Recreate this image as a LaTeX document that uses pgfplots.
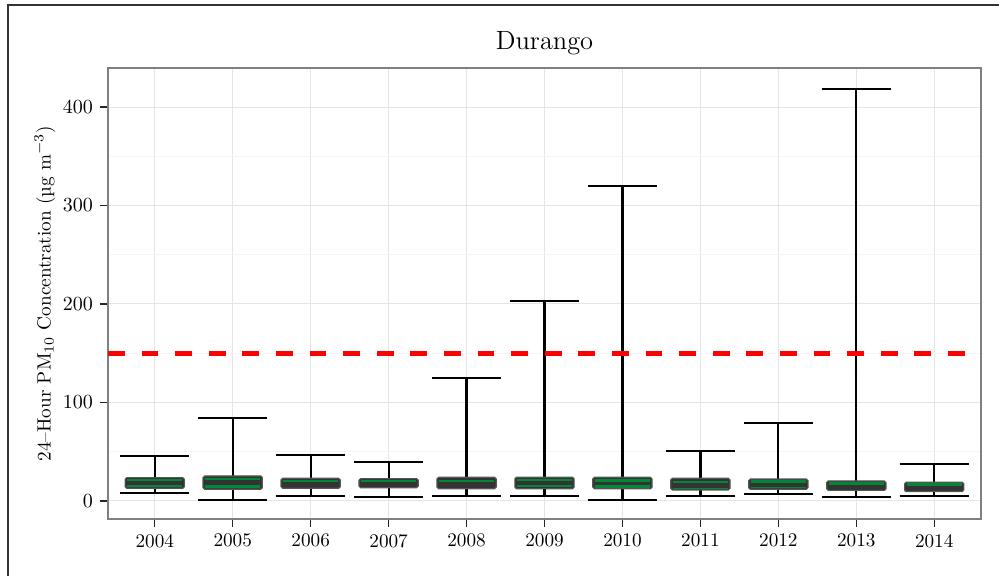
\documentclass[border=0pt]{standalone}
\usepackage{pgfplots}
\pgfplotsset{compat=1.18}
\usepackage{pgfplotstable}
\usepgfplotslibrary{statistics}

\definecolor{boxgray}{HTML}{333333}
\definecolor{boxedge}{HTML}{555555}
\definecolor{medgreen}{RGB}{0,136,55}

% boxes per year: x = year index (0 = 2004)
\pgfplotstableread{
x  lo   q1   med  q3   hi
0  7.8  12.9 18   23.7 46.0
1  1.3  11.9 18   25.4 84.6
2  5.4  12.9 18   23.0 46.7
3  4.4  13.5 18   22.7 39.6
4  5.4  12.5 18   24.0 124.9
5  5.4  12.5 18   24.0 202.7
6  1.3  12.5 18   24.0 319.8
7  5.4  11.2 18   23.0 50.4
8  6.8  11.9 18   22.3 79.5
9  3.7  10.8 15   20.3 418.6
10 4.7  9.5  14   19.0 37.6
}\boxdata

% green lines inside the boxes
\pgfplotstableread{
x  y
0  21.6
0  15.2
1  22.3
1  14.9
2  20.0
3  20.0
4  20.3
5  21.6
5  15.5
6  21.0
6  14.9
7  19.0
8  19.6
9  17.6
10 16.6
}\greenmain

\pgfplotstableread{
x  y
7  12.9
8  13.9
}\greenthin

\begin{document}
\begin{tikzpicture}
\begin{axis}[
    at={(0,0)}, anchor=south west,
    scale only axis,
    width=436.5pt, height=225.5pt,
    xmin=-0.6, xmax=10.6,
    ymin=-18.3, ymax=439.6,
    xtick={0,...,10},
    xticklabels={2004,2005,2006,2007,2008,2009,2010,2011,2012,2013,2014},
    ytick={0,100,200,300,400},
    minor ytick={50,150,250,350},
    xmajorgrids, ymajorgrids, yminorgrids,
    major grid style={color=black!10, line width=0.5pt},
    minor grid style={color=black!4, line width=0.5pt},
    axis line style={color=black!50, line width=0.7pt},
    tick pos=left,
    tick align=outside,
    major tick length=4pt,
    minor tick length=0pt,
    tick style={black!85, line width=0.7pt},
    ticklabel style={font=\fontsize{9.6}{11.5}\selectfont},
    title={Durango},
    title style={at={(0.5,1)}, anchor=base, yshift=3.1pt, font=\fontsize{13.2}{16}\selectfont},
    ylabel={24--Hour PM$_{10}$ Concentration (µg m$^{-3}$)},
    ylabel style={at={(axis description cs:0,0.5)}, anchor=center, yshift=31.5pt, font=\fontsize{9.6}{11.5}\selectfont},
    boxplot/draw direction=y,
    boxplot/box extend=0.76,
    boxplot/whisker extend=0.89,
    boxplot/every box/.style={fill=boxgray, draw=boxedge, line width=0.6pt, rounded corners=0.8pt},
    boxplot/every whisker/.style={black, line width=1.1pt},
    boxplot/every median/.style={draw=none},
]
\pgfplotsinvokeforeach{0,...,10}{
  \pgfplotstablegetelem{#1}{lo}\of\boxdata \let\lo\pgfplotsretval
  \pgfplotstablegetelem{#1}{q1}\of\boxdata \let\qa\pgfplotsretval
  \pgfplotstablegetelem{#1}{med}\of\boxdata \let\md\pgfplotsretval
  \pgfplotstablegetelem{#1}{q3}\of\boxdata \let\qb\pgfplotsretval
  \pgfplotstablegetelem{#1}{hi}\of\boxdata \let\hi\pgfplotsretval
  \edef\doplot{\noexpand\addplot[boxplot prepared={draw position=#1,
      lower whisker=\lo, lower quartile=\qa, median=\md,
      upper quartile=\qb, upper whisker=\hi}] coordinates {};}
  \doplot
}
\addplot[draw=none, mark=none,
  error bars/.cd, x dir=both, x fixed=0.35, error mark=none,
  error bar style={draw=medgreen, line width=1.2pt, solid}]
  table[x=x, y=y] {\greenmain};
\addplot[draw=none, mark=none,
  error bars/.cd, x dir=both, x fixed=0.35, error mark=none,
  error bar style={draw=medgreen, line width=0.6pt, solid}]
  table[x=x, y=y] {\greenthin};
\addplot[red, line width=2.3pt, dash pattern=on 8.4pt off 8.4pt]
  coordinates {(-0.6,150) (10.6,150)};
\end{axis}
\draw[gray!40!black, line width=0.6pt] (-50pt,-40pt) -- (-50pt,257pt) -- (470pt,257pt);
\pgfresetboundingbox
\path[use as bounding box] (-54pt,-28pt) rectangle (445.5pt,259.5pt);
\end{tikzpicture}
\end{document}
